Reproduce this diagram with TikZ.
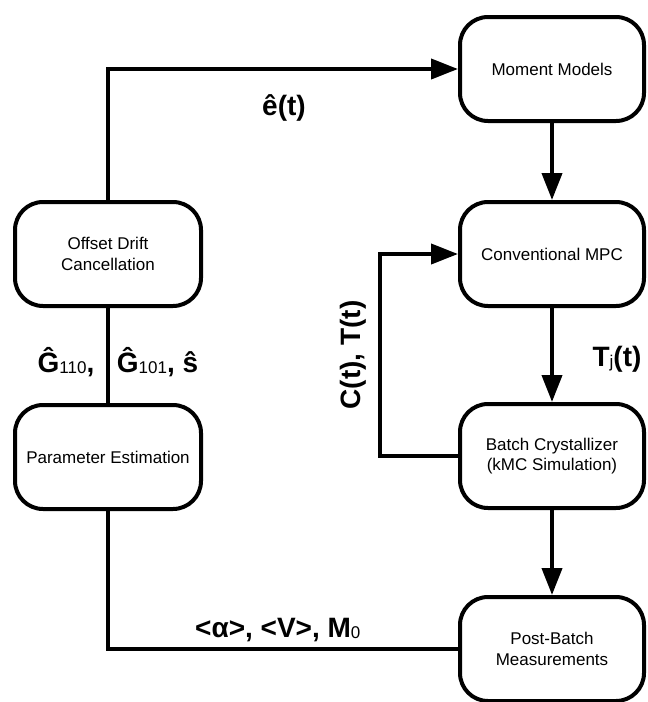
\documentclass[tikz,border=0pt]{standalone}
\usepackage{fontspec}
\setmainfont{Liberation Sans}
\usetikzlibrary{arrows.meta}
\newcommand\lsub[1]{{\fontsize{17}{17}\mdseries\selectfont\raisebox{-1pt}{#1}}}
\begin{document}
\begin{tikzpicture}[x=1pt,y=-1pt,
  box/.style={draw, line width=4pt, rounded corners=28pt, minimum width=184pt,
    minimum height=104pt, align=center, inner sep=0pt,
    font=\fontsize{17}{20.5}\selectfont},
  conn/.style={line width=4pt},
  arr/.style={conn, -{Triangle[length=27pt,width=20pt]}},
  lab/.style={font=\fontsize{28}{30}\selectfont\bfseries, inner sep=0pt, anchor=base}]
\useasboundingbox (0,0) rectangle (648,702);
\node[box] (mm) at (552,69) {Moment Models};
\node[box] (mpc) at (552,254) {Conventional MPC};
\node[box] (bc) at (552,456) {Batch Crystallizer\\(kMC Simulation)};
\node[box] (pb) at (552,649) {Post-Batch\\Measurements};
\node[box, minimum width=186pt] (odc) at (108,254) {Offset Drift\\Cancellation};
\node[box, minimum width=186pt] (pe) at (108,457) {Parameter Estimation};
\coordinate (fb) at (380,456);
\draw[arr] (odc.north) |- (mm.west);
\draw[arr] (mm.south) -- (mpc.north);
\draw[arr] (mpc.south) -- (bc.north);
\draw[arr] (bc.south) -- (pb.north);
\draw[arr] (bc.west) -- (fb) |- (mpc.west);
\draw[conn] (odc.south) -- (pe.north);
\draw[conn] (pe.south) |- (pb.west);
\node[lab] (le) at (284,115) {ê(t)};
\node[lab] (lg1) at (66,372) {Ĝ\lsub{110},};
\node[lab] (lg2) at (157.5,372) {Ĝ\lsub{101}, ŝ};
\node[lab] (ltj) at (617,366) {T\lsub{j}(t)};
\node[lab, rotate=90] (lct) at (360,355) {C(t), T(t)};
\node[lab, anchor=base west] (lav) at (195,637) {<α>, <V>, M\lsub{0}};
\end{tikzpicture}
\end{document}
